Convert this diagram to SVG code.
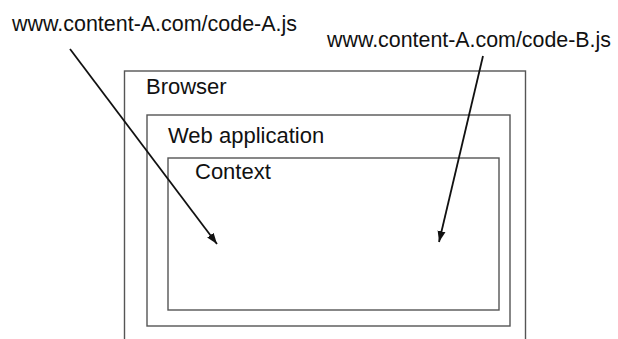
<svg xmlns="http://www.w3.org/2000/svg" width="618" height="339" viewBox="0 0 618 339">
  <style>
    .box { fill: none; stroke: #555; stroke-width: 1.4; }
    .lbl { font-family: "Liberation Sans", Arial, sans-serif; font-size: 22px; fill: #111; }
    .conn { stroke: #111; stroke-width: 1.8; fill: none; marker-end: url(#arrow); }
  </style>
  <defs>
    <marker id="arrow" markerUnits="userSpaceOnUse" markerWidth="12" markerHeight="10" viewBox="0 0 12 10" refX="11" refY="5" orient="auto">
      <path d="M0,1 L11,5 L0,9 Z" fill="#111"/>
    </marker>
  </defs>
  <rect width="618" height="339" fill="#fff"/>
  <g id="browser">
    <rect class="box" x="124.5" y="71" width="401" height="290"/>
    <text class="lbl" x="146" y="94">Browser</text>
  </g>
  <g id="web-application">
    <rect class="box" x="147" y="115" width="363" height="211"/>
    <text class="lbl" x="168" y="143">Web application</text>
  </g>
  <g id="context">
    <rect class="box" x="168" y="158" width="331" height="152"/>
    <text class="lbl" x="195" y="179">Context</text>
  </g>
  <g id="code-a">
    <text class="lbl" x="12" y="31" textLength="285" lengthAdjust="spacingAndGlyphs">www.content-A.com/code-A.js</text>
  </g>
  <g id="code-b">
    <text class="lbl" x="327" y="47" textLength="284" lengthAdjust="spacingAndGlyphs">www.content-A.com/code-B.js</text>
  </g>
  <g id="connectors">
    <line class="conn" x1="70" y1="49" x2="217" y2="244"/>
    <line class="conn" x1="483" y1="56" x2="439" y2="242"/>
  </g>
</svg>
